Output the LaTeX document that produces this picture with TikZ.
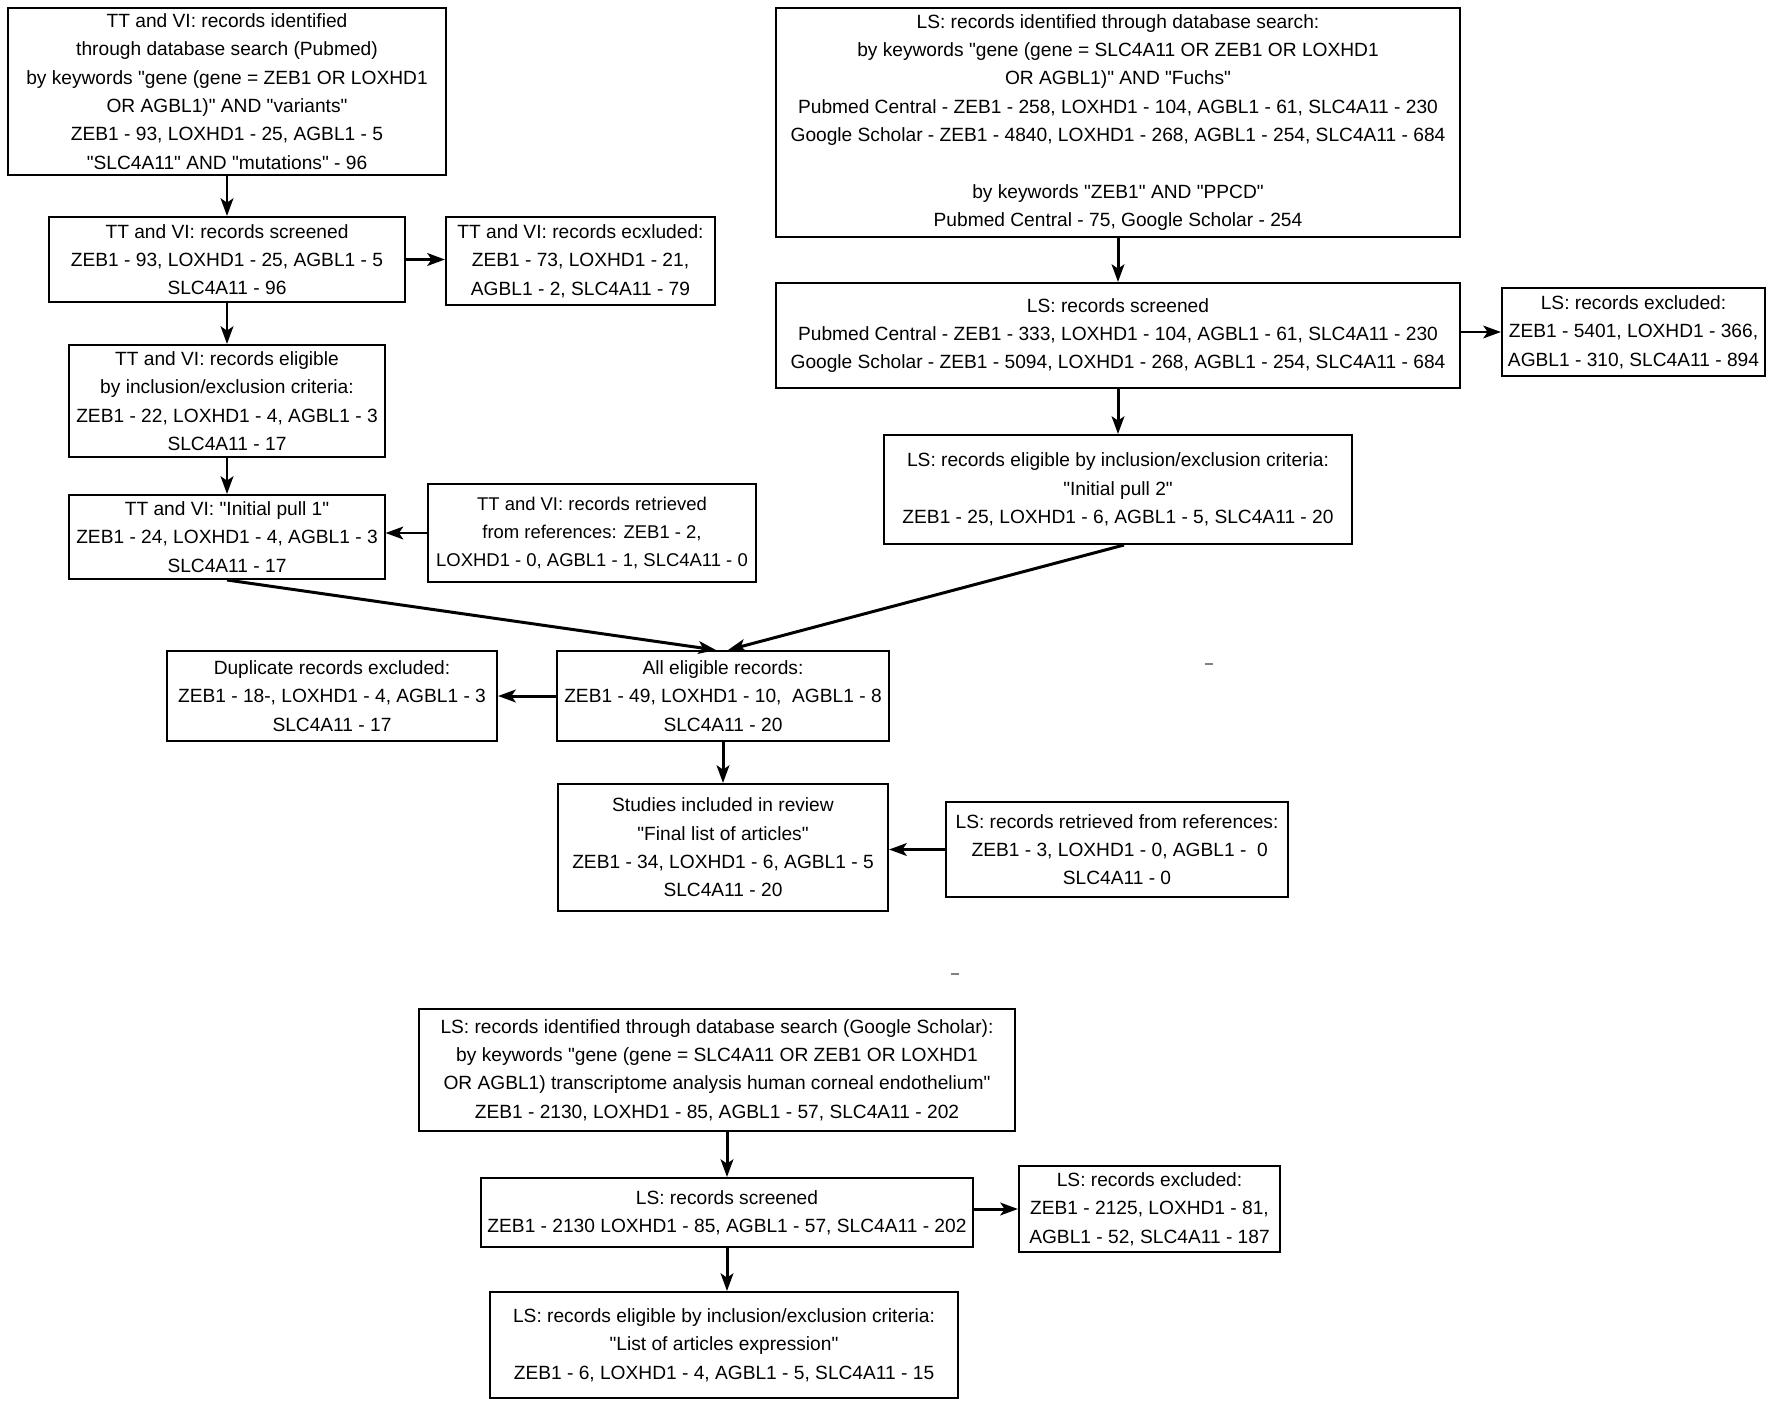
\documentclass[tikz,border=0pt]{standalone}
\usepackage{fontspec}
\setmainfont{Liberation Sans}[Ligatures=TeXOff]
\usetikzlibrary{arrows.meta,positioning}

\begin{document}
\begin{tikzpicture}[
  x=0.01cm, y=-0.01cm,
  font=\fontsize{5.45}{8.05}\selectfont,
  box/.style={draw=black, line width=0.55pt, fill=white, align=center, inner sep=0pt},
  arr/.style={-{Stealth[length=5pt,width=3.6pt,inset=1.2pt]}, line width=0.85pt},
]
\useasboundingbox (0,0) rectangle (1772,1406);

% ---- TT and VI branch ----
\node[box, minimum width=4.38cm, minimum height=1.67cm] (ttid) at (227,91.5)
  {TT and VI: records identified\\through database search (Pubmed)\\by keywords "gene (gene = ZEB1 OR LOXHD1\\OR AGBL1)" AND "variants"\\ZEB1 - 93, LOXHD1 - 25, AGBL1 - 5\\"SLC4A11" AND "mutations" - 96};
\node[box, minimum width=3.56cm, minimum height=0.85cm] (ttscr) at (227,259.5)
  {TT and VI: records screened\\ZEB1 - 93, LOXHD1 - 25, AGBL1 - 5\\SLC4A11 - 96};
\node[box, minimum width=2.69cm, minimum height=0.88cm] (ttexc) at (580.5,261)
  {TT and VI: records ecxluded:\\ZEB1 - 73, LOXHD1 - 21,\\AGBL1 - 2, SLC4A11 - 79};
\node[box, minimum width=3.15cm, minimum height=1.12cm] (ttelig) at (227,401)
  {TT and VI: records eligible\\by inclusion/exclusion criteria:\\ZEB1 - 22, LOXHD1 - 4, AGBL1 - 3\\SLC4A11 - 17};
\node[box, minimum width=3.15cm, minimum height=0.84cm] (ttpull) at (227,537)
  {TT and VI: "Initial pull 1"\\ZEB1 - 24, LOXHD1 - 4, AGBL1 - 3\\SLC4A11 - 17};
\node[box, minimum width=3.28cm, minimum height=0.98cm, font=\fontsize{5.25}{8.05}\selectfont] (ttref) at (592,533)
  {TT and VI: records retrieved\\from references: ZEB1 - 2,\\LOXHD1 - 0, AGBL1 - 1, SLC4A11 - 0};

% ---- LS branch ----
\node[box, minimum width=6.83cm, minimum height=2.29cm] (lsid) at (1118,122.5)
  {LS: records identified through database search:\\by keywords "gene (gene = SLC4A11 OR ZEB1 OR LOXHD1\\OR AGBL1)" AND "Fuchs"\\Pubmed Central - ZEB1 - 258, LOXHD1 - 104, AGBL1 - 61, SLC4A11 - 230\\Google Scholar - ZEB1 - 4840, LOXHD1 - 268, AGBL1 - 254, SLC4A11 - 684\\[8.05pt]by keywords "ZEB1" AND "PPCD"\\Pubmed Central - 75, Google Scholar - 254};
\node[box, minimum width=6.83cm, minimum height=1.05cm] (lsscr) at (1118,335.5)
  {LS: records screened\\Pubmed Central - ZEB1 - 333, LOXHD1 - 104, AGBL1 - 61, SLC4A11 - 230\\Google Scholar - ZEB1 - 5094, LOXHD1 - 268, AGBL1 - 254, SLC4A11 - 684};
\node[box, minimum width=2.63cm, minimum height=0.88cm] (lsexc) at (1633.5,332)
  {LS: records excluded:\\ZEB1 - 5401, LOXHD1 - 366,\\AGBL1 - 310, SLC4A11 - 894};
\node[box, minimum width=4.67cm, minimum height=1.09cm] (lselig) at (1118,489.5)
  {LS: records eligible by inclusion/exclusion criteria:\\"Initial pull 2"\\ZEB1 - 25, LOXHD1 - 6, AGBL1 - 5, SLC4A11 - 20};

% ---- merged ----
\node[box, minimum width=3.30cm, minimum height=0.90cm] (dupl) at (332,696)
  {Duplicate records excluded:\\ZEB1 - 18-, LOXHD1 - 4, AGBL1 - 3\\SLC4A11 - 17};
\node[box, minimum width=3.31cm, minimum height=0.90cm] (alleli) at (723,696)
  {All eligible records:\\ZEB1 - 49, LOXHD1 - 10,\ \ AGBL1 - 8\\SLC4A11 - 20};
\node[box, minimum width=3.30cm, minimum height=1.27cm] (final) at (723,847.5)
  {Studies included in review\\"Final list of articles"\\ZEB1 - 34, LOXHD1 - 6, AGBL1 - 5\\SLC4A11 - 20};
\node[box, minimum width=3.42cm, minimum height=0.95cm] (lsref) at (1117,849.5)
  {LS: records retrieved from references:\\\ ZEB1 - 3, LOXHD1 - 0, AGBL1 -\ \ 0\\SLC4A11 - 0};

% ---- expression search ----
\node[box, minimum width=5.96cm, minimum height=1.22cm] (gsid) at (717,1070)
  {LS: records identified through database search (Google Scholar):\\by keywords "gene (gene = SLC4A11 OR ZEB1 OR LOXHD1\\OR AGBL1) transcriptome analysis human corneal endothelium"\\ZEB1 - 2130, LOXHD1 - 85, AGBL1 - 57, SLC4A11 - 202};
\node[box, minimum width=4.92cm, minimum height=0.69cm] (gsscr) at (727,1212.5)
  {LS: records screened\\ZEB1 - 2130 LOXHD1 - 85, AGBL1 - 57, SLC4A11 - 202};
\node[box, minimum width=2.61cm, minimum height=0.86cm] (gsexc) at (1149.5,1209)
  {LS: records excluded:\\ZEB1 - 2125, LOXHD1 - 81,\\AGBL1 - 52, SLC4A11 - 187};
\node[box, minimum width=4.68cm, minimum height=1.06cm] (gselig) at (724,1345)
  {LS: records eligible by inclusion/exclusion criteria:\\"List of articles expression"\\ZEB1 - 6, LOXHD1 - 4, AGBL1 - 5, SLC4A11 - 15};

% ---- arrows ----
\draw[arr] (ttid) -- (ttscr);
\draw[arr] (ttscr.east) -- (ttscr.east -| ttexc.west);
\draw[arr] (ttscr) -- (ttelig);
\draw[arr] (ttelig) -- (ttpull);
\draw[arr] (ttref.west) -- (ttref.west -| ttpull.east);
\draw[arr] (lsid) -- (lsscr);
\draw[arr] (lsexc.west -| lsscr.east) -- (lsexc.west);
\draw[arr] (lsscr) -- (lselig);
\draw[arr] (ttpull.south) -- ([xshift=-0.07cm]alleli.north);
\draw[arr] ([xshift=0.06cm]lselig.south) -- ([xshift=0.05cm]alleli.north);
\draw[arr] (alleli.west) -- (alleli.west -| dupl.east);
\draw[arr] (alleli) -- (final);
\draw[arr] (lsref.west) -- (lsref.west -| final.east);
\draw[arr] (gsid.south -| gsscr.north) -- (gsscr.north);
\draw[arr] (gsexc.west -| gsscr.east) -- (gsexc.west);
\draw[arr] (gsscr.south) -- (gsscr.south |- gselig.north);

% stray marks
\draw[gray, line width=0.4pt] (1205,664) -- (1213,664);
\draw[gray, line width=0.4pt] (951,974) -- (959,974);
\end{tikzpicture}
\end{document}
